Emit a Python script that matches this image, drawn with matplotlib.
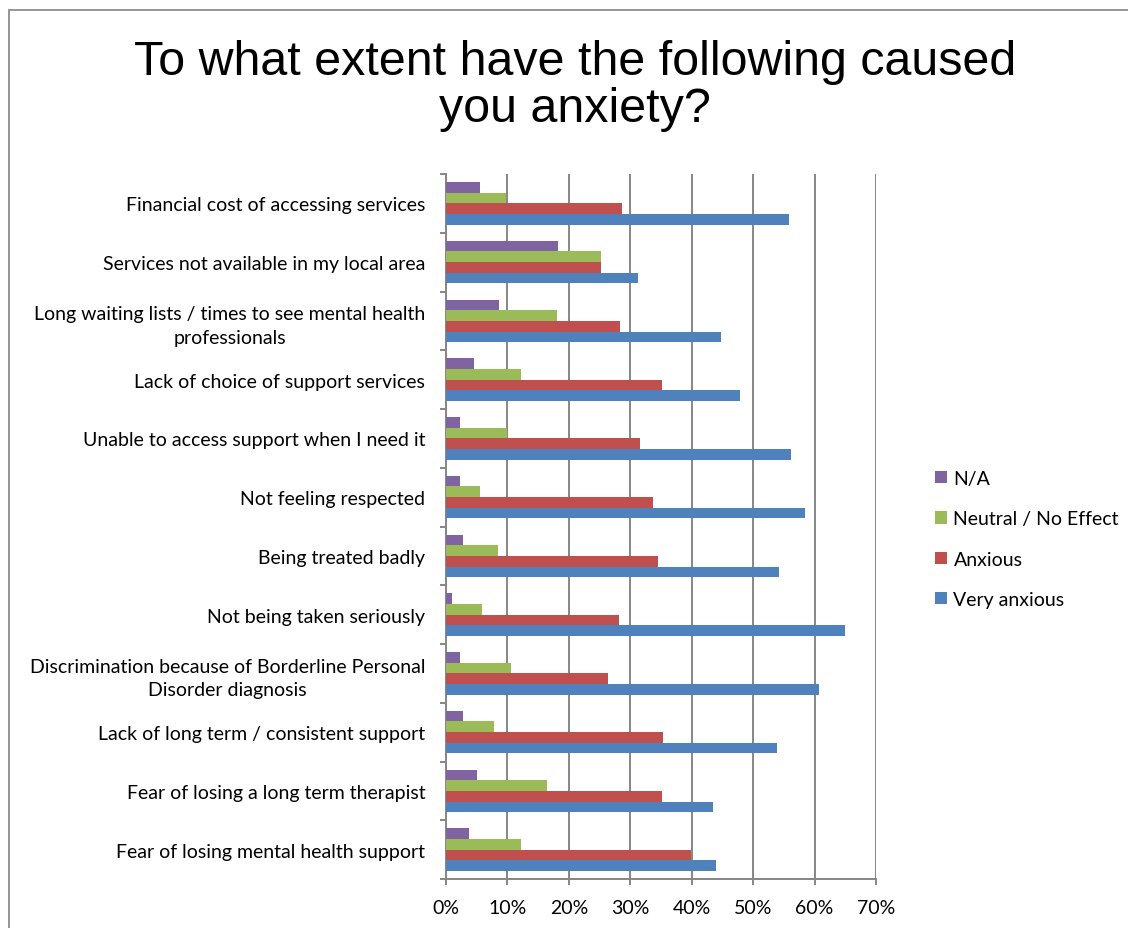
import matplotlib
matplotlib.use("Agg")
import matplotlib.pyplot as plt
from matplotlib.patches import Patch, Rectangle
import numpy as np

categories = [
    "Financial cost of accessing services",
    "Services not available in my local area",
    "Long waiting lists / times to see mental health\nprofessionals",
    "Lack of choice of support services",
    "Unable to access support when I need it",
    "Not feeling respected",
    "Being treated badly",
    "Not being taken seriously",
    "Discrimination because of Borderline Personal\nDisorder diagnosis",
    "Lack of long term / consistent support",
    "Fear of losing a long term therapist",
    "Fear of losing mental health support",
]

# percentages, same order as categories
na = [5.6, 18.2, 8.7, 4.6, 2.2, 2.2, 2.8, 0.9, 2.2, 2.8, 5.0, 3.7]
neutral = [9.8, 25.2, 18.1, 12.2, 10.0, 5.5, 8.4, 5.9, 10.6, 7.8, 16.4, 12.2]
anxious = [28.6, 25.2, 28.4, 35.2, 31.5, 33.7, 34.5, 28.2, 26.4, 35.3, 35.1, 39.9]
very_anxious = [55.8, 31.2, 44.7, 47.8, 56.2, 58.5, 54.2, 64.9, 60.7, 53.9, 43.4, 44.0]

series_names = ["N/A", "Neutral / No Effect", "Anxious", "Very anxious"]
colors = ["#8064A2", "#9BBB59", "#C0504D", "#4F81BD"]
xticks = [0, 10, 20, 30, 40, 50, 60, 70]

label_font = "Lato"
label_size = 14
grid_col = "#868686"

fig = plt.figure(figsize=(11.28, 9.29), dpi=100)

# outer chart border (left and top visible)
fig.patches.append(Rectangle((8.5 / 1128, -0.1), 1.2, 1 - 11 / 929 + 0.1,
                             transform=fig.transFigure, fill=False,
                             edgecolor="#8c8c8c", linewidth=1.3))

fig.text(575 / 1128, 1 - 86 / 929,
         "To what extent have the following caused\nyou anxiety?",
         ha="center", va="center", fontsize=34.8, family="Liberation Sans",
         linespacing=1.07)

ax = fig.add_axes([446 / 1128, 49 / 929, 430 / 1128, 705 / 929])

y = np.arange(len(categories))
h = 0.181
all_series = [na, neutral, anxious, very_anxious]
for k, (vals, col, name) in enumerate(zip(all_series, colors, series_names)):
    ax.barh(y + (k - 1.5) * h, vals, height=h, color=col, label=name,
            zorder=3, edgecolor="none")

ax.set_xlim(0, 70)
ax.set_ylim(len(categories) - 0.5, -0.5)
ax.set_xticks(xticks)
ax.set_xticklabels([f"{t}%" for t in xticks], family=label_font,
                   fontsize=label_size)
ax.set_yticks(y)
ax.set_yticklabels(categories, family=label_font, fontsize=label_size,
                   multialignment="center", linespacing=1.45)
ax.set_yticks(np.arange(-0.5, len(categories), 1), minor=True)

ax.tick_params(axis="y", which="major", length=0, pad=15)
ax.tick_params(axis="y", which="minor", length=4.5, width=1.4, color=grid_col,
               direction="out")
ax.tick_params(axis="x", length=4.5, width=1.4, color=grid_col, pad=10)

ax.grid(axis="x", color=grid_col, linewidth=1.4, zorder=0)
ax.set_axisbelow(True)
for side in ["top", "right"]:
    ax.spines[side].set_visible(False)
for side in ["left", "bottom"]:
    ax.spines[side].set_color(grid_col)
    ax.spines[side].set_linewidth(1.4)

handles = [Patch(facecolor=c, label=n) for c, n in zip(colors, series_names)]
fig.legend(handles=handles, loc="center left",
           bbox_to_anchor=(935 / 1128, 1 - 540 / 929), frameon=False,
           prop={"family": label_font, "size": label_size},
           handlelength=0.6, handleheight=0.6, handletextpad=0.35,
           labelspacing=1.2, borderpad=0, borderaxespad=0)

fig.savefig("out.png", dpi=100)
